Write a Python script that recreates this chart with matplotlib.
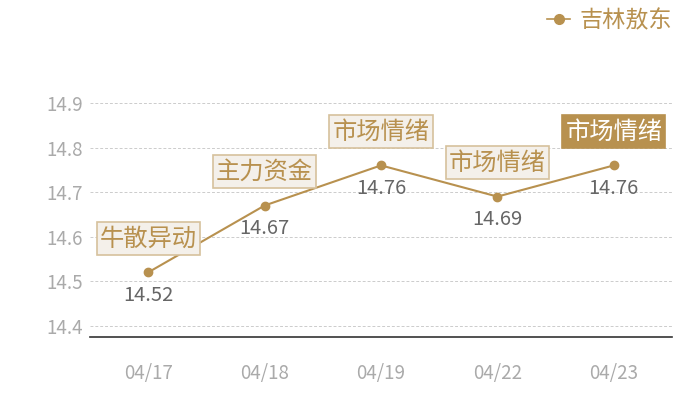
import matplotlib
matplotlib.use('Agg')
import matplotlib.pyplot as plt
from matplotlib.lines import Line2D

plt.rcParams['font.family'] = ['Noto Sans CJK SC', 'DejaVu Sans']

# data
dates = ['04/17', '04/18', '04/19', '04/22', '04/23']
prices = [14.52, 14.67, 14.76, 14.69, 14.76]
tags = ['牛散异动', '主力资金', '市场情绪', '市场情绪', '市场情绪']
yticks = [14.4, 14.5, 14.6, 14.7, 14.8, 14.9]
series_name = '吉林敖东'

gold = '#b8914f'

fig = plt.figure(figsize=(7, 4), dpi=100)
ax = fig.add_axes([0.1286, 0.1575, 0.8314, 0.585])

x = list(range(len(dates)))
ax.plot(x, prices, color=gold, linewidth=1.5, marker='o', markersize=6, zorder=3)

ax.set_xlim(-0.5, len(dates) - 0.5)
ax.set_ylim(14.375, 14.9)
ax.set_yticks(yticks)
ax.set_yticklabels(['%.1f' % v for v in yticks])
ax.set_xticks(x)
ax.set_xticklabels(dates)
ax.tick_params(axis='both', length=0, colors='#aaaaaa', labelsize=13.5)
ax.tick_params(axis='x', pad=19)
ax.tick_params(axis='y', pad=5)

ax.grid(axis='y', color='#cccccc', linestyle=(0, (3, 2)), linewidth=0.7)
ax.set_axisbelow(True)
for s in ['top', 'right', 'left']:
    ax.spines[s].set_visible(False)
ax.spines['bottom'].set_color('#333333')
ax.spines['bottom'].set_linewidth(1.2)

# value labels under points, tags above
for i, (p, t) in enumerate(zip(prices, tags)):
    ax.annotate('%.2f' % p, (i, p), xytext=(0, -16.5), textcoords='offset points',
                ha='center', va='center', fontsize=14.5, color='#666666')
    last = i == len(prices) - 1
    ax.annotate(t, (i, p), xytext=(0, 24.5), textcoords='offset points',
                ha='center', va='center', fontsize=17.5,
                color='white' if last else gold,
                bbox=dict(boxstyle='square,pad=0.13',
                          facecolor=gold if last else '#f4f0ea',
                          edgecolor=gold if last else '#d6c19c', linewidth=1.2))

# legend
handle = Line2D([], [], color=gold, marker='o', markersize=7, linewidth=1.2)
fig.legend([handle], [series_name], loc='upper right', bbox_to_anchor=(0.99, 1.03),
           frameon=False, fontsize=16.7, labelcolor=gold, handlelength=1.0,
           handletextpad=0.4)

fig.savefig('out.png', dpi=100)
